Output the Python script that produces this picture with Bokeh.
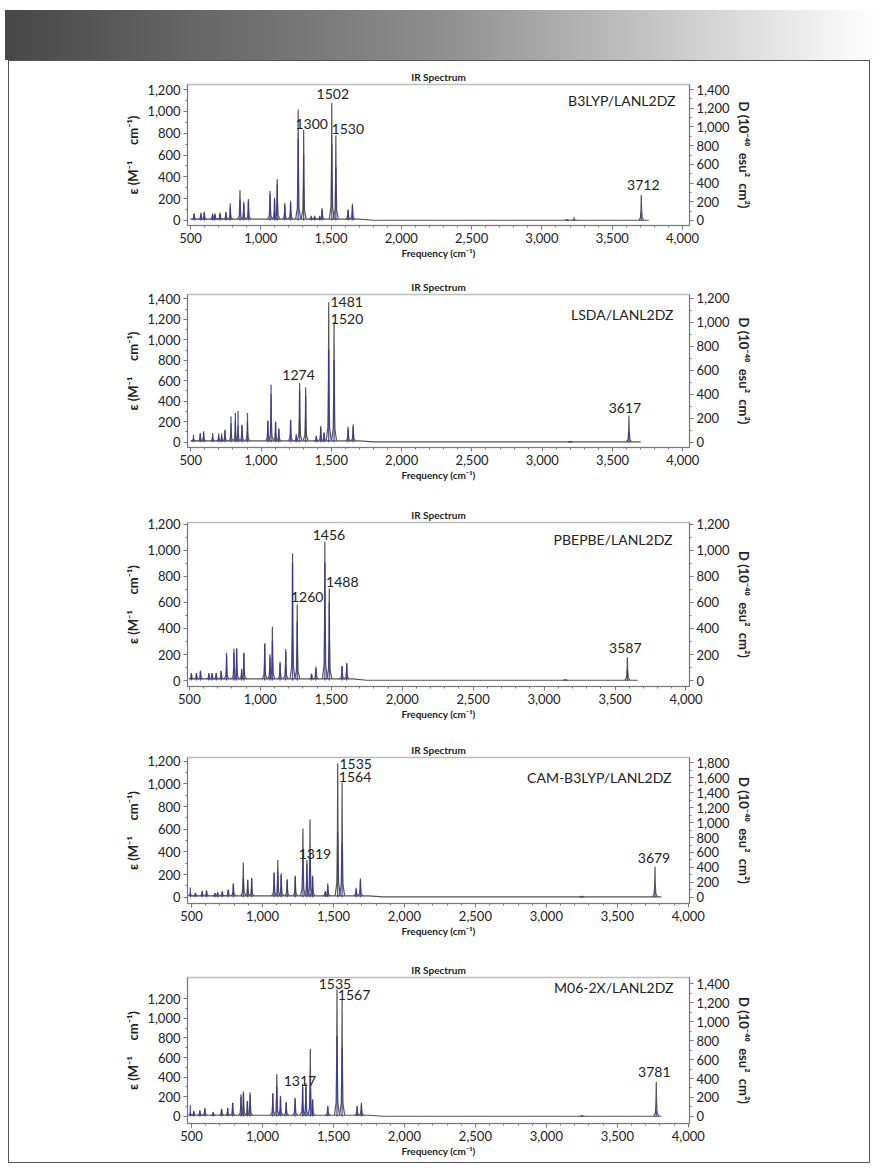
from bokeh.plotting import figure
from bokeh.models import Range1d, LinearAxis, FixedTicker, NumeralTickFormatter, Label, Div
from bokeh.layouts import column
from bokeh.embed import file_html
from bokeh.resources import INLINE

FONT = "Lato"

# ---------------- data ----------------
methods = ["B3LYP/LANL2DZ", "LSDA/LANL2DZ", "PBEPBE/LANL2DZ", "CAM-B3LYP/LANL2DZ", "M06-2X/LANL2DZ"]

eps_tick_max = [1200, 1400, 1200, 1200, 1200]
d_tick_max = [1400, 1200, 1200, 1800, 1400]

freq_b3lyp = [526, 574, 598, 657, 674, 710, 752, 783, 852, 879, 912, 1066, 1098, 1117, 1171, 1212,
              1266, 1305, 1359, 1383, 1419, 1436, 1505, 1534, 1621, 1652, 3180, 3229, 3707]
eps_b3lyp = [62, 67, 77, 60, 60, 70, 75, 120, 274, 169, 191, 268, 206, 375, 157, 175,
             1013, 828, 40, 40, 37, 108, 1074, 775, 99, 150, 8, 12, 230]
d_b3lyp = [70, 70, 82, 64, 64, 70, 82, 180, 226, 175, 198, 280, 222, 385, 163, 187,
           875, 700, 35, 35, 35, 117, 815, 570, 105, 152, 12, 35, 64]
base_cm_b3lyp = [500, 1700, 1800, 3760]
base_eps_b3lyp = [12, 12, 2, 2]
labels_b3lyp = ["1300", "1502", "1530", "3712"]
label_at_b3lyp = [1305, 1505, 1534, 3707]

freq_lsda = [519, 567, 591, 655, 698, 719, 743, 786, 817, 836, 864, 903, 1048, 1071, 1103, 1126,
             1210, 1250, 1274, 1317, 1393, 1424, 1448, 1481, 1519, 1619, 1655, 3200, 3617]
eps_lsda = [40, 75, 90, 60, 60, 60, 110, 179, 211, 160, 165, 200, 205, 465, 195, 130,
            215, 60, 575, 530, 60, 153, 90, 1364, 1169, 146, 168, 8, 255]
d_lsda = [62, 78, 92, 77, 73, 73, 104, 214, 243, 261, 141, 244, 180, 479, 167, 111,
          184, 69, 429, 386, 51, 120, 77, 771, 686, 111, 129, 9, 86]
base_cm_lsda = [500, 1700, 1800, 3700]
base_eps_lsda = [12, 12, 2, 2]
labels_lsda = ["1274", "1481", "1520", "3617"]
label_at_lsda = [1274, 1481, 1519, 3617]

freq_pbe = [514, 550, 578, 637, 660, 689, 724, 762, 814, 833, 868, 884, 1031, 1068, 1085, 1139,
            1179, 1227, 1260, 1361, 1392, 1455, 1486, 1576, 1609, 3150, 3587]
eps_pbe = [51, 54, 72, 54, 54, 56, 72, 190, 210, 244, 70, 210, 282, 200, 410, 141,
           238, 974, 582, 50, 103, 1064, 705, 108, 131, 6, 177]
d_pbe = [55, 55, 70, 55, 55, 56, 72, 213, 244, 244, 90, 210, 282, 180, 300, 130,
         220, 903, 450, 50, 90, 905, 600, 110, 130, 10, 80]
base_cm_pbe = [500, 1650, 1750, 3660]
base_eps_pbe = [12, 12, 2, 2]
labels_pbe = ["1260", "1456", "1488", "3587"]
label_at_pbe = [1260, 1455, 1486, 3587]

freq_cam = [492, 528, 575, 606, 665, 684, 717, 759, 795, 865, 896, 924, 1082, 1108, 1132, 1174,
            1231, 1285, 1313, 1335, 1353, 1443, 1460, 1530, 1561, 1660, 1690, 3250, 3765]
eps_cam = [40, 35, 53, 59, 35, 41, 50, 65, 118, 303, 150, 165, 215, 324, 206, 156,
           185, 603, 324, 683, 185, 50, 118, 1177, 1006, 79, 162, 8, 265]
d_cam = [132, 52, 75, 82, 52, 60, 75, 98, 177, 243, 225, 248, 322, 345, 300, 225,
         270, 530, 450, 600, 270, 75, 150, 870, 728, 105, 225, 15, 75]
base_cm_cam = [490, 1750, 1850, 3810]
base_eps_cam = [12, 12, 2, 2]
labels_cam = ["1319", "1535", "1564", "3679"]
label_at_cam = [1313, 1530, 1561, 3765]

freq_m06 = [492, 516, 559, 594, 653, 712, 755, 790, 849, 866, 894, 913, 1073, 1101, 1127, 1167,
            1230, 1283, 1306, 1337, 1353, 1460, 1525, 1561, 1667, 1697, 3250, 3774]
eps_m06 = [40, 51, 58, 82, 41, 75, 82, 137, 222, 250, 154, 240, 233, 427, 205, 143,
           185, 330, 335, 684, 170, 103, 1289, 1186, 103, 137, 8, 349]
d_m06 = [117, 52, 60, 78, 42, 72, 83, 142, 207, 238, 155, 227, 241, 310, 207, 145,
         186, 310, 310, 414, 176, 103, 848, 724, 103, 124, 10, 62]
base_cm_m06 = [490, 1750, 1850, 3810]
base_eps_m06 = [12, 12, 2, 2]
labels_m06 = ["1317", "1535", "1567", "3781"]
label_at_m06 = [1306, 1525, 1561, 3774]

# ---------------- layout / style ----------------
FIG_W = 860
FRAME_W = 500
layouts = [
    dict(left=171, fh=140, top=23, bottom=40, x=(478.6, 4050), y=(-46, 1246), d=(-54, 1454), mx=14, my=7,
         off=[(8, 6), (1, 9), (12, 7), (2, 10)]),
    dict(left=176, fh=153, top=30, bottom=40, x=(476.4, 4047.8), y=(-52, 1442), d=(-44, 1233), mx=16, my=11,
         off=[(-1, 8), (18, 0), (13, 3), (-4, 8)]),
    dict(left=178, fh=164, top=35, bottom=40, x=(486.6, 4025), y=(-46, 1215), d=(-46, 1215), mx=17, my=8,
         off=[(10, 8), (4, 7), (13, 7), (-2, 9)]),
    dict(left=177, fh=146, top=31, bottom=40, x=(472, 4008), y=(-56, 1233), d=(-84, 1873), mx=18, my=11,
         off=[(8, 6), (18, 0), (13, 6), (-1, 9)]),
    dict(left=177, fh=145, top=34, bottom=40, x=(472, 4008), y=(-72, 1415), d=(-74, 1464), mx=16, my=1,
         off=[(-6, 3), (-2, 6), (12, 5), (-2, 10)]),
]

CURVE = "#555555"
STICK = "#3232aa"
AXIS = "#7a7a7a"
TXT = "#222222"
EDGE = "1px solid #555555"
NB = "\u00a0"


def style_axis(ax, label, ticks, minor):
    ax.ticker = FixedTicker(ticks=ticks, minor_ticks=minor)
    ax.formatter = NumeralTickFormatter(format="0,0")
    ax.axis_label = label
    ax.axis_label_text_font = FONT
    ax.axis_label_text_font_style = "bold"
    ax.axis_label_text_color = TXT
    ax.major_label_text_font = FONT
    ax.major_label_text_font_size = "13px"
    ax.major_label_text_color = TXT
    ax.axis_line_color = AXIS
    ax.major_tick_line_color = AXIS
    ax.minor_tick_line_color = AXIS
    ax.major_tick_in = 0
    ax.major_tick_out = 4
    ax.minor_tick_in = 0
    ax.minor_tick_out = 2
    ax.major_label_standoff = 3


def make_panel(idx, freq, eps, dstr, base_cm, base_eps, labels, label_at):
    L = layouts[idx]
    st = {"border-left": EDGE, "border-right": EDGE}
    if idx == 0:
        st["border-top"] = EDGE
    if idx == 4:
        st["border-bottom"] = EDGE
    p = figure(frame_width=FRAME_W, frame_height=L["fh"],
               min_border_left=L["left"], min_border_right=FIG_W - FRAME_W - L["left"],
               min_border_top=L["top"], min_border_bottom=L["bottom"],
               x_range=Range1d(*L["x"]), y_range=Range1d(*L["y"]),
               output_backend="svg", toolbar_location=None, title="IR Spectrum",
               styles=st, margin=(0, 0, 0, 8))
    p.extra_y_ranges = {"D": Range1d(*L["d"])}
    p.title.align = "center"
    p.title.text_font = FONT
    p.title.text_font_size = "10px"
    p.title.text_font_style = "bold"
    p.title.text_color = TXT
    p.title.standoff = 3
    p.grid.visible = False
    p.outline_line_color = "#bdbdbd"
    p.outline_line_width = 1.5
    p.background_fill_color = "white"
    p.border_fill_color = "white"

    xt = list(range(500, 4001, 500))
    xm = list(range(500, 4001, 100))
    style_axis(p.xaxis[0], "Frequency (cm\u207b\u00b9)", xt, xm)
    p.xaxis[0].axis_label_text_font_size = "10px"
    p.xaxis[0].axis_label_standoff = 1

    em = eps_tick_max[idx]
    style_axis(p.yaxis[0], "\u03b5 (M\u207b\u00b9" + NB * 5 + "cm\u207b\u00b9)",
               list(range(0, em + 1, 200)), list(range(0, em + 1, 100)))
    p.yaxis[0].axis_label_text_font_size = "13px"
    p.yaxis[0].axis_label_standoff = 3

    dm = d_tick_max[idx]
    rax = LinearAxis(y_range_name="D")
    style_axis(rax, "D (10\u207b\u2074\u2070" + NB * 2 + "esu\u00b2" + NB * 2 + "cm\u00b2)",
               list(range(0, dm + 1, 200)), list(range(0, dm + 1, 100)))
    rax.axis_label_text_font_size = "13px"
    rax.axis_label_standoff = 3
    p.add_layout(rax, "right")

    p.line(base_cm, base_eps, line_color=CURVE, line_width=1.2)
    xs, ys = [], []
    for f, h in zip(freq, eps):
        b = base_eps[0] if f < base_cm[2] else base_eps[-1]
        xs.append([f - 18, f - 6, f - 2, f, f + 2, f + 6, f + 18])
        ys.append([b, b + 0.1 * h, b + 0.45 * h, h, b + 0.45 * h, b + 0.1 * h, b])
    p.multi_line(xs, ys, line_color=CURVE, line_width=1.2, line_join="round")

    p.segment(x0=freq, y0=[0] * len(freq), x1=freq, y1=dstr, y_range_name="D",
              line_color=STICK, line_width=1.3, line_alpha=0.85)

    p.add_layout(Label(x=L["x"][1], y=L["y"][1], x_offset=-L["mx"], y_offset=-L["my"],
                       text=methods[idx], text_align="right", text_baseline="top",
                       text_font=FONT, text_font_size="14px", text_color=TXT))
    for (txt, at), (dx, dy) in zip(zip(labels, label_at), L["off"]):
        h = eps[freq.index(at)]
        p.add_layout(Label(x=at, y=h, x_offset=dx, y_offset=dy, text=txt,
                           text_align="center", text_baseline="middle",
                           text_font=FONT, text_font_size="14px", text_color=TXT))
    return p


figs = [
    make_panel(0, freq_b3lyp, eps_b3lyp, d_b3lyp, base_cm_b3lyp, base_eps_b3lyp, labels_b3lyp, label_at_b3lyp),
    make_panel(1, freq_lsda, eps_lsda, d_lsda, base_cm_lsda, base_eps_lsda, labels_lsda, label_at_lsda),
    make_panel(2, freq_pbe, eps_pbe, d_pbe, base_cm_pbe, base_eps_pbe, labels_pbe, label_at_pbe),
    make_panel(3, freq_cam, eps_cam, d_cam, base_cm_cam, base_eps_cam, labels_cam, label_at_cam),
    make_panel(4, freq_m06, eps_m06, d_m06, base_cm_m06, base_eps_m06, labels_m06, label_at_m06),
]

header = Div(text="", width=872, height=50, margin=(10, 0, 0, 5),
             styles={"background": "linear-gradient(to right, #474747 0%, #8e8e8e 50%, #ffffff 100%)"})
page = column(header, *figs, spacing=0)

open("out.html", "w").write(file_html(page, INLINE))
